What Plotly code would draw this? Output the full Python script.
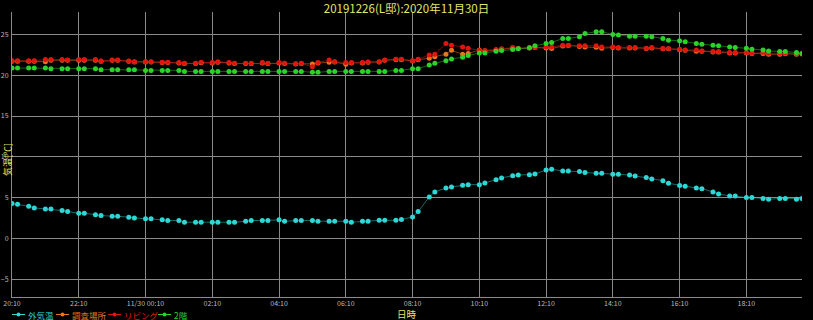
import plotly.graph_objects as go

TITLE = "20191226(L邸):2020年11月30日"
SERIES_NAMES = ["外気温", "調査場所", "リビング", "2階"]
SERIES_COLORS = ["#2fd6d6", "#e8741c", "#e0160e", "#2ad22a"]
LINE_COLORS = ["rgba(40,190,190,0.55)", "rgba(200,100,20,0.6)", "rgba(190,20,10,0.6)", "rgba(30,170,30,0.6)"]

# sampling hours (20:xx on 11/29 through 19:xx on 11/30) and minutes within each hour
HOURS = [20, 21, 22, 23, 0, 1, 2, 3, 4, 5, 6, 7, 8, 9, 10, 11, 12, 13, 14, 15, 16, 17, 18, 19]
MINUTES = [10, 20, 40, 50]

outdoor = [
    4.31, 4.23, 3.98, 3.78, 3.66, 3.66, 3.46, 3.33, 3.13, 3.13, 2.93, 2.85,
    2.76, 2.76, 2.64, 2.56, 2.44, 2.44, 2.32, 2.24, 2.24, 2.03, 2.03, 2.03,
    2.03, 2.03, 2.03, 2.03, 2.15, 2.24, 2.24, 2.24, 2.32, 2.15, 2.24, 2.24,
    2.24, 2.15, 2.15, 2.15, 2.15, 2.03, 2.15, 2.15, 2.26, 2.26, 2.26, 2.36,
    2.68, 3.33, 5.12, 5.73, 6.22, 6.34, 6.54, 6.62, 6.62, 6.83, 7.23, 7.44,
    7.72, 7.80, 7.84, 7.93, 8.41, 8.50, 8.29, 8.29, 8.21, 8.09, 8.01, 8.01,
    7.89, 7.89, 7.80, 7.68, 7.48, 7.32, 7.11, 6.79, 6.50, 6.42, 6.22, 6.13,
    5.73, 5.49, 5.24, 5.24, 5.04, 5.04, 4.92, 4.84, 4.92, 4.92, 4.84, 4.92,
]
survey = [
    21.70, 21.70, 21.70, 21.70, 21.64, 21.80, 21.80, 21.80, 21.80, 21.80, 21.80, 21.68,
    21.80, 21.80, 21.68, 21.60, 21.60, 21.60, 21.52, 21.52, 21.48, 21.40, 21.40, 21.50,
    21.48, 21.56, 21.48, 21.40, 21.40, 21.40, 21.48, 21.40, 21.48, 21.40, 21.36, 21.40,
    21.35, 21.48, 21.56, 21.60, 21.31, 21.48, 21.48, 21.56, 21.60, 21.80, 21.88, 21.88,
    21.72, 21.88, 22.05, 22.25, 22.55, 23.03, 22.54, 22.62, 23.07, 22.95, 23.05, 23.15,
    23.30, 23.24, 23.30, 23.36, 23.30, 23.24, 23.55, 23.60, 23.50, 23.44, 23.40, 23.28,
    23.36, 23.30, 23.30, 23.30, 23.24, 23.30, 23.20, 23.20, 23.10, 23.02, 22.90, 22.90,
    22.82, 22.82, 22.70, 22.70, 22.70, 22.62, 22.62, 22.54, 22.54, 22.60, 22.54, 22.58,
]
living = [
    21.76, 21.76, 21.76, 21.76, 21.89, 21.89, 21.89, 21.84, 21.89, 21.89, 21.89, 21.72,
    21.84, 21.84, 21.72, 21.64, 21.64, 21.64, 21.56, 21.56, 21.52, 21.43, 21.43, 21.56,
    21.52, 21.64, 21.52, 21.43, 21.43, 21.43, 21.52, 21.43, 21.52, 21.43, 21.39, 21.43,
    21.02, 21.52, 21.84, 21.64, 21.52, 21.52, 21.52, 21.60, 21.64, 21.84, 21.93, 21.93,
    21.76, 21.93, 22.46, 22.54, 23.85, 23.65, 23.44, 23.28, 22.99, 22.99, 23.11, 23.20,
    23.36, 23.28, 23.36, 23.40, 23.44, 23.44, 23.65, 23.65, 23.57, 23.57, 23.57, 23.44,
    23.44, 23.36, 23.36, 23.36, 23.28, 23.36, 23.24, 23.24, 23.16, 23.07, 23.07, 22.95,
    22.87, 22.87, 22.75, 22.75, 22.75, 22.66, 22.75, 22.66, 22.66, 22.66, 22.66, 22.62,
]
second_floor = [
    20.86, 20.86, 20.86, 20.86, 20.86, 20.78, 20.78, 20.78, 20.78, 20.78, 20.78, 20.66,
    20.66, 20.66, 20.66, 20.66, 20.57, 20.57, 20.57, 20.57, 20.57, 20.45, 20.45, 20.45,
    20.45, 20.45, 20.45, 20.45, 20.45, 20.45, 20.45, 20.45, 20.45, 20.45, 20.45, 20.45,
    20.33, 20.33, 20.45, 20.45, 20.45, 20.45, 20.45, 20.45, 20.45, 20.45, 20.57, 20.57,
    20.78, 20.78, 21.23, 21.43, 21.76, 21.97, 22.17, 22.38, 22.70, 22.70, 22.91, 22.99,
    23.11, 23.20, 23.32, 23.57, 23.85, 23.98, 24.47, 24.47, 24.67, 25.08, 25.29, 25.29,
    24.96, 24.88, 24.75, 24.75, 24.75, 24.67, 24.47, 24.26, 24.18, 24.06, 23.85, 23.77,
    23.65, 23.57, 23.44, 23.36, 23.28, 23.16, 23.07, 22.95, 22.87, 22.87, 22.75, 22.62,
]

Y_TICKS = [-5, 0, 5, 10, 15, 20, 25]
X_TICK_TIMES = ["2020-11-29 20:10", "2020-11-29 22:10", "2020-11-30 00:10", "2020-11-30 02:10",
                "2020-11-30 04:10", "2020-11-30 06:10", "2020-11-30 08:10", "2020-11-30 10:10",
                "2020-11-30 12:10", "2020-11-30 14:10", "2020-11-30 16:10", "2020-11-30 18:10"]
X_TICK_TEXT = ["20:10", "22:10", "11/30 00:10", "02:10", "04:10", "06:10", "08:10",
               "10:10", "12:10", "14:10", "16:10", "18:10"]

times = []
for h in HOURS:
    day = 29 if h >= 20 else 30
    for m in MINUTES:
        times.append(f"2020-11-{day} {h:02d}:{m:02d}")

fig = go.Figure()
for name, vals, mc, lc in zip(SERIES_NAMES, [outdoor, survey, living, second_floor], SERIES_COLORS, LINE_COLORS):
    fig.add_trace(go.Scatter(
        x=times, y=vals, mode="lines+markers", name=name, showlegend=False,
        line=dict(color=lc, width=1),
        marker=dict(color=mc, size=5, line=dict(width=0)),
    ))

W, H = 813, 320
ML, MR, MT, MB = 12, 11, 12, 23
PW, PH = W - ML - MR, H - MT - MB


def px_x(px):
    return (px - ML) / PW


def px_y(py):
    return (H - MB - py) / PH


# compact legend below the plot (symbol: short line with a dot, then coloured label)
LEG_Y = 314.5
LEG_SYMBOL_X = [12, 56, 108, 158]
shapes = []
annotations = []
for name, mc, lc, sx in zip(SERIES_NAMES, SERIES_COLORS, LINE_COLORS, LEG_SYMBOL_X):
    shapes.append(dict(type="line", xref="paper", yref="paper",
                       x0=px_x(sx), x1=px_x(sx + 13), y0=px_y(LEG_Y), y1=px_y(LEG_Y),
                       line=dict(color=mc, width=1), layer="above"))
    shapes.append(dict(type="circle", xref="paper", yref="paper",
                       x0=px_x(sx + 4.5), x1=px_x(sx + 8.5), y0=px_y(LEG_Y + 2), y1=px_y(LEG_Y - 2),
                       fillcolor=mc, line=dict(width=0), layer="above"))
    annotations.append(dict(text=name, xref="paper", yref="paper", x=px_x(sx + 13.5), y=px_y(LEG_Y),
                            xanchor="left", yanchor="middle", showarrow=False,
                            font=dict(size=8.5, color=mc)))

annotations += [
    dict(text="日時", xref="paper", yref="paper", x=0.5, y=px_y(314), yanchor="middle",
         showarrow=False, font=dict(size=9.5, color="#e6e66a")),
    dict(text="気温[℃]", xref="paper", yref="paper", x=px_x(7), y=px_y(160),
         xanchor="center", yanchor="middle", textangle=-90,
         showarrow=False, font=dict(size=9, color="#e6e66a")),
]

grid = "#8a8a8a"
fig.update_layout(
    width=W, height=H,
    paper_bgcolor="#000000", plot_bgcolor="#000000",
    margin=dict(l=ML, r=MR, t=MT, b=MB, autoexpand=False),
    font=dict(family="Noto Sans CJK JP, Noto Sans, sans-serif", color="#cccccc"),
    title=dict(text=TITLE, x=0.5, xanchor="center", y=1 - 8.5 / H, yanchor="middle",
               pad=dict(t=0), font=dict(size=11.5, color="#e6e66a"), automargin=False),
    showlegend=False,
    xaxis=dict(
        type="date",
        range=["2020-11-29 20:10", "2020-11-30 19:50"],
        tickvals=X_TICK_TIMES, ticktext=X_TICK_TEXT,
        tickfont=dict(size=7, color="#bbbbbb"),
        showgrid=True, gridcolor=grid, gridwidth=1,
        showline=True, linecolor=grid, zeroline=False,
        ticks="", ticklabelstandoff=0, automargin=False,
    ),
    yaxis=dict(
        range=[-7.1, 27.7],
        tickvals=Y_TICKS,
        tickfont=dict(size=7, color="#bbbbbb"),
        showgrid=True, gridcolor=grid, gridwidth=1,
        showline=True, linecolor=grid, zeroline=False,
        ticks="", ticklabelstandoff=1, automargin=False,
    ),
    shapes=shapes,
    annotations=annotations,
)

fig.write_html("out.html", config={"displayModeBar": False},
               post_script="document.body.style.margin='0';document.body.style.background='#000';")
